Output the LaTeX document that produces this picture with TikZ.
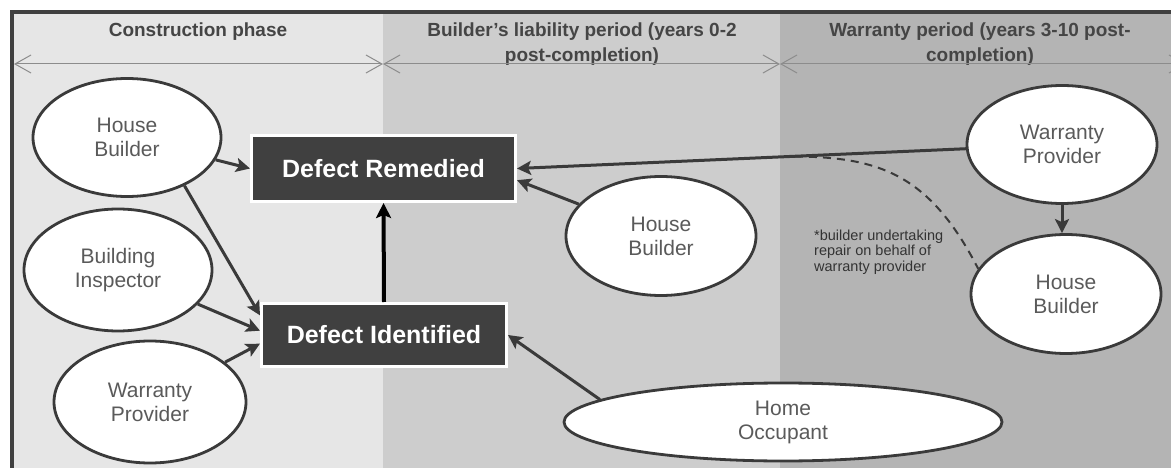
\documentclass[tikz,border=0pt]{standalone}
\usepackage{fontspec}
\setmainfont{Liberation Sans}
\usetikzlibrary{arrows.meta,shapes.geometric,calc}
\definecolor{pone}{HTML}{E6E6E6}
\definecolor{ptwo}{HTML}{CDCDCD}
\definecolor{pthree}{HTML}{B4B4B4}
\definecolor{framec}{HTML}{404040}
\definecolor{boxc}{HTML}{404040}
\definecolor{edgec}{HTML}{3A3A3A}
\definecolor{txtc}{HTML}{5A5A5A}
\definecolor{hdrc}{HTML}{454545}
\definecolor{tlc}{HTML}{8C8C8C}
\definecolor{notec}{HTML}{333333}
\begin{document}
\begin{tikzpicture}[x=1pt,y=-1pt,
 actor/.style={ellipse, draw=edgec, line width=2.8pt, fill=white, inner sep=0pt, text=txtc, font=\fontsize{21}{24}\selectfont, align=center},
 defect/.style={rectangle, draw=white, line width=3pt, fill=boxc, text=white, font=\fontsize{25}{28}\bfseries\selectfont, inner sep=0pt},
 hdrtext/.style={text=hdrc, font=\fontsize{19}{25}\bfseries\selectfont, align=center},
 flow/.style={draw=edgec, line width=3pt, -{Stealth[length=14pt,width=14pt,inset=3pt]}},
 spanline/.style={draw=tlc, line width=1pt, {Straight Barb[length=16pt,width=18pt]}-{Straight Barb[length=16pt,width=18pt]}}
]
\clip (0,0) rectangle (1171,468);
\fill[white] (0,0) rectangle (1171,468);
% panels
\fill[pone] (14,14) rectangle (383,468);
\fill[ptwo] (383,14) rectangle (780,468);
\fill[pthree] (780,14) rectangle (1171,468);
% frame
\fill[framec] (10,10) rectangle (1171,14);
\fill[framec] (10,10) rectangle (14,468);
% headers
\node[hdrtext] (h1) at (198,32) {Construction phase};
\node[hdrtext] (h2) at (582,44) {Builder’s liability period (years 0-2\\post-completion)};
\node[hdrtext] (h3) at (980,44) {Warranty period (years 3-10 post-\\completion)};
% timeline
\coordinate (t0) at (14,64);
\coordinate (t1) at (383,64);
\coordinate (t2) at (780,64);
\coordinate (t3) at (1186,64);
\draw[spanline] (t0) -- (t1);
\draw[spanline] (t1) -- (t2);
\draw[spanline] (t2) -- (t3);
% actors
\node[actor, minimum width=188pt, minimum height=118pt] (hbL) at (127,137.5) {House\\Builder};
\node[actor, minimum width=188pt, minimum height=122pt] (bi) at (118,270) {Building\\Inspector};
\node[actor, minimum width=192pt, minimum height=122pt] (wpL) at (150,402) {Warranty\\Provider};
\node[actor, minimum width=190pt, minimum height=119pt] (hbM) at (661,236) {House\\Builder};
\node[actor, minimum width=438pt, minimum height=78pt] (ho) at (783,422) {Home\\Occupant};
\node[actor, minimum width=190pt, minimum height=118pt] (wpR) at (1062,144.5) {Warranty\\Provider};
\node[actor, minimum width=190pt, minimum height=119pt] (hbR) at (1066,294) {House\\Builder};
% defect boxes
\node[defect, minimum width=264pt, minimum height=66pt] (remed) at (383.5,168.5) {Defect Remedied};
\node[defect, minimum width=245pt, minimum height=63pt] (ident) at (384,335) {Defect Identified};
% note
\node[anchor=west, align=left, text=notec, font=\fontsize{14.5}{15.5}\selectfont, inner sep=0pt] (note) at (814,252) {*builder undertaking\\repair on behalf of\\warranty provider};
% connectors
\draw[flow] (hbL) -- (remed.west);
\draw[flow] (hbL.-40) -- (ident.171);
\draw[flow] (bi) -- (ident.178);
\draw[flow] (wpL) -- (ident.184);
\draw[flow] (ho.173) -- (ident.east);
\draw[flow] (hbM) -- (remed.-5);
\draw[flow] (wpR) -- (remed.east);
\draw[flow] (wpR.south) -- (wpR.south |- hbR.north);
\draw[black, line width=4pt, -{Stealth[length=15pt,width=15pt,inset=3pt]}] (ident.north) -- (remed.south);
\coordinate (dstart) at (795,156.5);
\draw[edgec, line width=2pt, dash pattern=on 8pt off 6pt] (dstart) .. controls (880,157) and (930,175) .. (hbR.164);
\end{tikzpicture}
\end{document}
